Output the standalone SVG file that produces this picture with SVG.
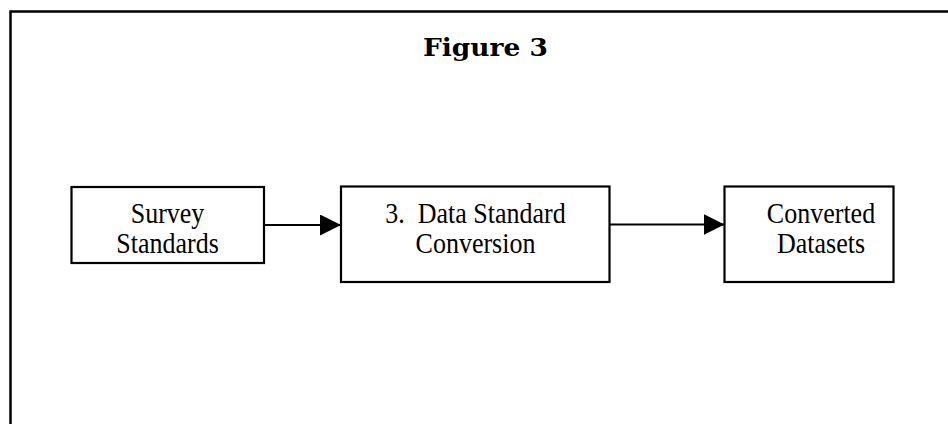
<svg xmlns="http://www.w3.org/2000/svg" width="948" height="424" viewBox="0 0 948 424">
<style>
.box{fill:#fff;stroke:#000;stroke-width:2.2}
.lbl{font-family:"Liberation Serif","Times New Roman",serif;font-size:26px;fill:#000;text-anchor:middle;white-space:pre}
.title{font-family:"DejaVu Serif",serif;font-weight:bold;font-size:24.5px;fill:#000;text-anchor:middle}
.conn{stroke:#000;stroke-width:2.2;fill:none}
</style>
<defs>
<marker id="ah" markerWidth="21" markerHeight="21" viewBox="0 0 21 21" refX="21" refY="10.5" markerUnits="userSpaceOnUse" orient="auto">
<path d="M0,0 L21,10.5 L0,21 Z" fill="#000"/>
</marker>
</defs>
<rect width="948" height="424" fill="#fff"/>
<path d="M10.5,424 V11.5 H948" fill="none" stroke="#000" stroke-width="2.5"/>
<text class="title" x="485.5" y="56" textLength="125" lengthAdjust="spacingAndGlyphs">Figure 3</text>
<g id="survey-standards">
<rect class="box" x="71.5" y="187" width="192.5" height="76"/>
<text class="lbl" transform="translate(167.5,223) scale(1,1.12)">Survey</text>
<text class="lbl" transform="translate(167.5,253) scale(1,1.12)">Standards</text>
</g>
<g id="data-standard-conversion">
<rect class="box" x="341" y="186.5" width="268.5" height="95.5"/>
<text class="lbl" transform="translate(475.5,223) scale(1,1.12)" xml:space="preserve">3.  Data Standard</text>
<text class="lbl" transform="translate(475.5,253) scale(1,1.12)">Conversion</text>
</g>
<g id="converted-datasets">
<rect class="box" x="724.5" y="186.5" width="169" height="95.5"/>
<text class="lbl" transform="translate(821,223) scale(1,1.12)">Converted</text>
<text class="lbl" transform="translate(821,253) scale(1,1.12)">Datasets</text>
</g>
<g id="connectors">
<line class="conn" x1="264" y1="225" x2="341" y2="225" marker-end="url(#ah)"/>
<line class="conn" x1="609.5" y1="224.5" x2="724.5" y2="224.5" marker-end="url(#ah)"/>
</g>
</svg>
